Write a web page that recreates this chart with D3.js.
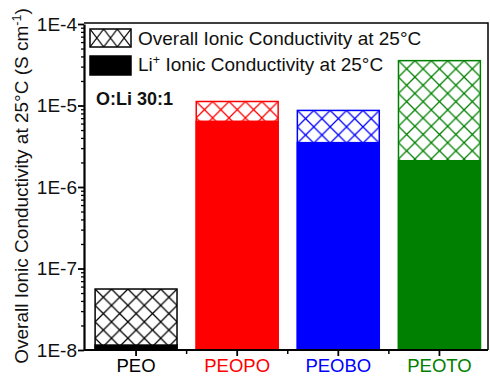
<!DOCTYPE html>
<html>
<head>
<meta charset="utf-8">
<script src="https://cdn.jsdelivr.net/npm/d3@7"></script>
<style>
  body { margin: 0; background: #fff; }
  svg text { font-family: "Liberation Sans", Arial, sans-serif; fill: #111; }
</style>
</head>
<body>
<svg id="chart" width="490" height="376"></svg>
<script>
// data
const categories = ["PEO", "PEOPO", "PEOBO", "PEOTO"];
const overallCond = [5.6e-8, 1.12e-5, 8.7e-6, 3.55e-5];
const liCond = [1.15e-8, 6.4e-6, 3.5e-6, 2.1e-6];
const barColors = ["#000000", "#ff0000", "#0000ff", "#008000"];
const yTickValues = [1e-8, 1e-7, 1e-6, 1e-5, 1e-4];
const yTickLabels = ["1E-8", "1E-7", "1E-6", "1E-5", "1E-4"];

let plotLeft = 84, plotRight = 488, plotTop = 24, plotBottom = 350;

let svg = d3.select("#chart");
let defs = svg.append("defs");

let x = d3.scaleBand()
  .domain(categories)
  .range([plotLeft + 1.5, plotRight + 2])
  .paddingInner(0.19)
  .paddingOuter(0.095);

let y = d3.scaleLog()
  .domain([1e-8, 1e-4])
  .range([plotBottom, plotTop]);

// hatch patterns, one per bar so they line up with the bar corner
categories.forEach((c, i) => {
  let p = defs.append("pattern")
    .attr("id", "hatch" + i)
    .attr("patternUnits", "userSpaceOnUse")
    .attr("x", x(c))
    .attr("y", y(overallCond[i]))
    .attr("width", 16.4)
    .attr("height", 16.4);
  p.append("rect").attr("width", 16.4).attr("height", 16.4).attr("fill", "#fff");
  p.append("path")
    .attr("d", "M0,0L16.4,16.4M16.4,0L0,16.4")
    .attr("stroke", barColors[i])
    .attr("stroke-width", 1.3)
    .attr("fill", "none");
});

// bars: overall (hatched) then Li+ (solid)
let bars = svg.append("g");
categories.forEach((c, i) => {
  bars.append("rect")
    .attr("x", x(c))
    .attr("y", y(overallCond[i]))
    .attr("width", x.bandwidth())
    .attr("height", y(1e-8) - y(overallCond[i]))
    .attr("fill", "url(#hatch" + i + ")")
    .attr("stroke", barColors[i])
    .attr("stroke-width", 1.5);
  bars.append("rect")
    .attr("x", x(c))
    .attr("y", y(liCond[i]))
    .attr("width", x.bandwidth())
    .attr("height", y(1e-8) - y(liCond[i]))
    .attr("fill", barColors[i])
    .attr("stroke", barColors[i])
    .attr("stroke-width", 1.5);
});

// frame top / right
svg.append("path")
  .attr("d", `M${plotLeft},${plotTop - 1}H${plotRight}V${plotBottom}`)
  .attr("fill", "none")
  .attr("stroke", "#000")
  .attr("stroke-width", 1.5);

// y axis
let minorY = [];
for (let e = -8; e < -4; e++) {
  for (let m = 2; m <= 9; m++) minorY.push(m * Math.pow(10, e));
}
svg.append("g")
  .attr("transform", `translate(${plotLeft},0)`)
  .call(d3.axisLeft(y).tickValues(minorY).tickSize(3).tickFormat(""))
  .call(g => g.select(".domain").remove())
  .call(g => g.selectAll("line").attr("stroke-width", 1.3));

let yAxis = svg.append("g")
  .attr("transform", `translate(${plotLeft},0)`)
  .call(d3.axisLeft(y).tickValues(yTickValues).tickSize(6).tickSizeOuter(0)
    .tickFormat((d, i) => yTickLabels[i]));
yAxis.select(".domain").attr("stroke-width", 2.2);
yAxis.selectAll("line").attr("stroke-width", 1.8);
yAxis.selectAll("text")
  .attr("x", -7)
  .attr("font-size", 19)
  .style("font-family", "Liberation Sans, Arial, sans-serif");

// x axis
let xAxis = svg.append("g")
  .attr("transform", `translate(0,${plotBottom})`)
  .call(d3.axisBottom(x).tickSize(6).tickSizeOuter(0).tickPadding(2.5));
xAxis.select(".domain").attr("d", `M${plotLeft},0H${plotRight}`).attr("stroke-width", 2.2);
xAxis.selectAll("line").attr("stroke-width", 1.8);
xAxis.selectAll("text")
  .attr("font-size", 18.5)
  .style("font-family", "Liberation Sans, Arial, sans-serif")
  .style("fill", (d, i) => barColors[i]);

// minor x ticks between the bars
let step = x.step();
let between = categories.slice(1).map(c => x(c) - (step - x.bandwidth()) / 2);
svg.append("g").selectAll("line")
  .data(between)
  .enter()
  .append("line")
  .attr("x1", d => d).attr("x2", d => d)
  .attr("y1", plotBottom).attr("y2", plotBottom + 4)
  .attr("stroke", "#000")
  .attr("stroke-width", 1.5);

// y axis title
svg.append("text")
  .attr("transform", `translate(28,186) rotate(-90)`)
  .attr("text-anchor", "middle")
  .attr("font-size", 19)
  .html('Overall Ionic Conductivity at 25°C (S cm<tspan dy="-7" font-size="12.5">-1</tspan><tspan dy="7">)</tspan>');

// legend
let legend = svg.append("g");
let lp = defs.append("pattern")
  .attr("id", "hatchLegend")
  .attr("patternUnits", "userSpaceOnUse")
  .attr("x", 90).attr("y", 29)
  .attr("width", 41 / 3).attr("height", 18);
lp.append("rect").attr("width", 41 / 3).attr("height", 18).attr("fill", "#fff");
lp.append("path")
  .attr("d", `M0,0L${41 / 3},18M${41 / 3},0L0,18`)
  .attr("stroke", "#000").attr("stroke-width", 1.1);

legend.append("rect")
  .attr("x", 90).attr("y", 29).attr("width", 41).attr("height", 18)
  .attr("fill", "url(#hatchLegend)").attr("stroke", "#000").attr("stroke-width", 1.5);
legend.append("rect")
  .attr("x", 90).attr("y", 56).attr("width", 41).attr("height", 19)
  .attr("fill", "#000").attr("stroke", "#000").attr("stroke-width", 1.5);
legend.append("text")
  .attr("x", 138).attr("y", 45)
  .attr("font-size", 19)
  .text("Overall Ionic Conductivity at 25°C");
legend.append("text")
  .attr("x", 138).attr("y", 71)
  .attr("font-size", 19)
  .html('Li<tspan dy="-7" font-size="12.5">+</tspan><tspan dy="7"> Ionic Conductivity at 25°C</tspan>');

svg.append("text")
  .attr("x", 96).attr("y", 105)
  .attr("font-size", 18)
  .attr("font-weight", "bold")
  .text("O:Li 30:1");
</script>
</body>
</html>
